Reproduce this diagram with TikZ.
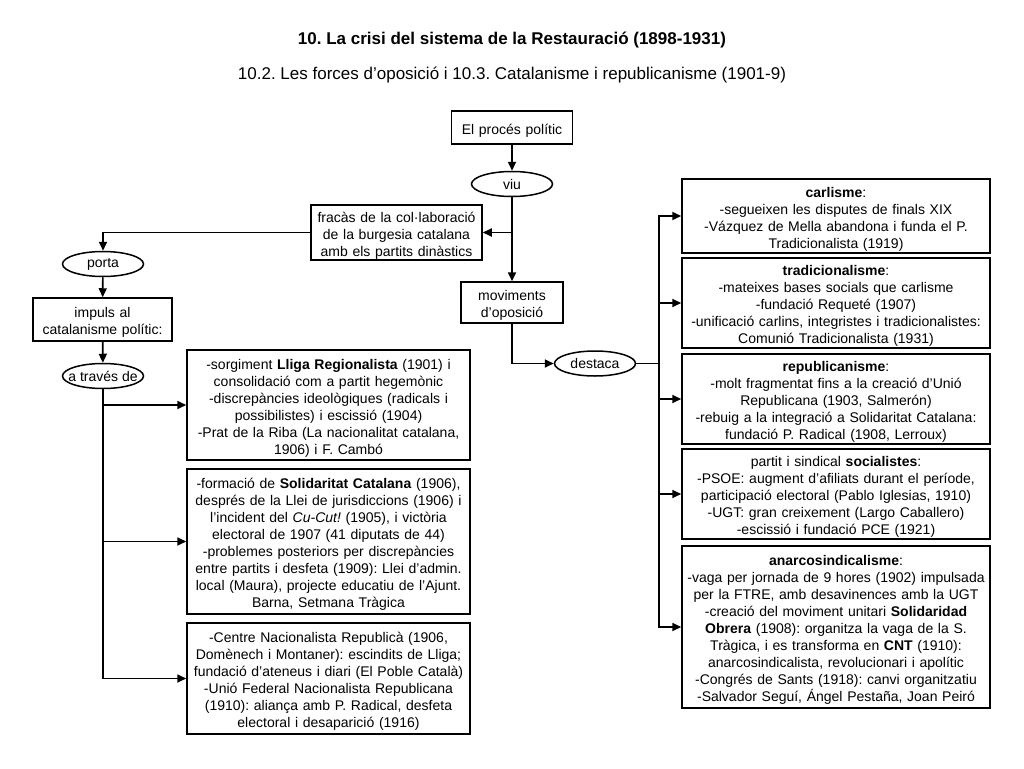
\documentclass[tikz,border=0pt]{standalone}
\usepackage{fontspec}
\setmainfont{Liberation Sans}
\usepackage{tikz}
\usetikzlibrary{arrows.meta,shapes.geometric}
\frenchspacing

\begin{document}
\begin{tikzpicture}[x=1pt,y=-1pt,
		caixa/.style={draw,line width=1.5pt,align=center,inner xsep=-4pt,inner ysep=0pt,text height=16pt,font=\fontsize{14}{17}\selectfont},
		verb/.style={draw,ellipse,line width=1.5pt,inner xsep=-8pt,inner ysep=0pt,minimum width=81pt,minimum height=25pt,font=\fontsize{14}{17}\selectfont},
		fletxa/.style={line width=1.7pt,-{Triangle[length=9pt,width=8pt]}}]
		\useasboundingbox (0,0) rectangle (1024,768);
		\node[font=\bfseries\fontsize{17}{20}\selectfont] (titol) at (512,40) {10. La crisi del sistema de la Restauració (1898-1931)};
		\node[font=\fontsize{17}{20}\selectfont] (subtitol) at (512,75) {10.2. Les forces d’oposició i 10.3. Catalanisme i republicanisme (1901-9)};
		\node[caixa,text width=129pt,minimum height=33pt] (proces) at (512,127.5) {El procés polític};
		\node[verb] (viu) at (512,184) {viu};
		\node[caixa,text width=179pt,minimum height=55pt] (fracas) at (396.5,232.5) {fracàs de la col·laboració\\de la burgesia catalana\\amb els partits dinàstics};
		\node[caixa,text width=110pt,minimum height=41pt] (mov) at (512,302.5) {moviments\\d’oposició};
		\node[verb] (porta) at (103,264) {porta};
		\node[caixa,text width=147pt,minimum height=43pt] (impuls) at (102.5,319.5) {impuls al\\catalanisme polític:};
		\node[verb] (atraves) at (103,376) {a través de};
		\node[verb] (destaca) at (595,363.5) {destaca};
		\node[caixa,text width=291pt,minimum height=110pt] (lliga) at (328.5,405) {-sorgiment \textbf{Lliga Regionalista} (1901) i\\consolidació com a partit hegemònic\\-discrepàncies ideològiques (radicals i\\possibilistes) i escissió (1904)\\-Prat de la Riba (La nacionalitat catalana,\\1906) i F. Cambó};
		\node[caixa,text width=291pt,minimum height=145pt] (solid) at (328.5,541.5) {-formació de \textbf{Solidaritat Catalana} (1906),\\després de la Llei de jurisdiccions (1906) i\\l’incident del \textit{Cu-Cut!} (1905), i victòria\\electoral de 1907 (41 diputats de 44)\\-problemes posteriors per discrepàncies\\entre partits i desfeta (1909): Llei d’admin.\\local (Maura), projecte educatiu de l’Ajunt.\\Barna, Setmana Tràgica};
		\node[caixa,text width=291pt,minimum height=111pt] (centre) at (328.5,678.5) {-Centre Nacionalista Republicà (1906,\\Domènech i Montaner): escindits de Lliga;\\fundació d’ateneus i diari (El Poble Català)\\-Unió Federal Nacionalista Republicana\\(1910): aliança amb P. Radical, desfeta\\electoral i desaparició (1916)};
		\node[caixa,text width=316pt,minimum height=74pt] (carl) at (836,216) {\textbf{carlisme}:\\-segueixen les disputes de finals XIX\\-Vázquez de Mella abandona i funda el P.\\Tradicionalista (1919)};
		\node[caixa,text width=316pt,minimum height=90pt] (trad) at (836,303) {\textbf{tradicionalisme}:\\-mateixes bases socials que carlisme\\-fundació Requeté (1907)\\-unificació carlins, integristes i tradicionalistes:\\Comunió Tradicionalista (1931)};
		\node[caixa,text width=316pt,minimum height=90pt] (repub) at (836,399) {\textbf{republicanisme}:\\-molt fragmentat fins a la creació d’Unió\\Republicana (1903, Salmerón)\\-rebuig a la integració a Solidaritat Catalana:\\fundació P. Radical (1908, Lerroux)};
		\node[caixa,text width=316pt,minimum height=90pt] (soc) at (836,494) {partit i sindical \textbf{socialistes}:\\-PSOE: augment d’afiliats durant el període,\\participació electoral (Pablo Iglesias, 1910)\\-UGT: gran creixement (Largo Caballero)\\-escissió i fundació PCE (1921)};
		\node[caixa,text width=316pt,minimum height=162pt] (anarco) at (836,627) {\textbf{anarcosindicalisme}:\\-vaga per jornada de 9 hores (1902) impulsada\\per la FTRE, amb desavinences amb la UGT\\-creació del moviment unitari \textbf{Solidaridad}\\\textbf{Obrera} (1908): organitza la vaga de la S.\\Tràgica, i es transforma en \textbf{CNT} (1910):\\anarcosindicalista, revolucionari i apolític\\-Congrés de Sants (1918): canvi organitzatiu\\-Salvador Seguí, Ángel Pestaña, Joan Peiró};
		\coordinate (tronc) at (659,363.5);
		\draw[fletxa] (proces) -- (viu);
		\draw[fletxa] (viu) -- (mov);
		\draw[fletxa] (viu.south |- fracas.east) -- (fracas.east);
		\draw[fletxa] (fracas.west) -| (porta.north);
		\draw[fletxa] (porta) -- (impuls);
		\draw[fletxa] (impuls) -- (atraves);
		\foreach \b in {lliga,solid,centre}
			\draw[fletxa] (atraves.south) |- (\b.west);
		\draw[fletxa] (mov.south) |- (destaca.west);
		\draw[line width=1.7pt] (destaca.east) -- (tronc);
		\foreach \b in {carl,trad,repub,soc,anarco}
			\draw[fletxa] (tronc) |- (\b.west);
	\end{tikzpicture}
\end{document}
